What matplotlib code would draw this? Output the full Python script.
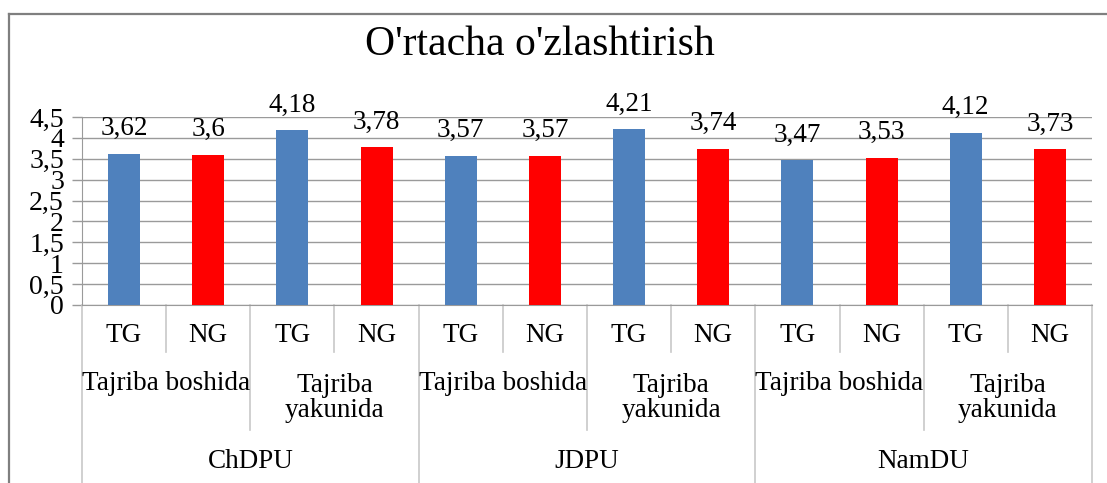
import matplotlib.pyplot as plt
from matplotlib.lines import Line2D

plt.rcParams['font.family'] = ['Liberation Serif', 'DejaVu Serif']

# data
universities = ["ChDPU", "JDPU", "NamDU"]
stages = ["Tajriba boshida", "Tajriba\nyakunida"]
groups = ["TG", "NG"]
values = [3.62, 3.6, 4.18, 3.78,
          3.57, 3.57, 4.21, 3.74,
          3.47, 3.53, 4.12, 3.73]
yticks = [0, 0.5, 1, 1.5, 2, 2.5, 3, 3.5, 4, 4.5]

blue = "#4F81BD"
red = "#FF0000"
grid_col = "#9a9a9a"
sep_col = "#c8c8c8"

W, H = 1107, 483
fig = plt.figure(figsize=(W / 100, H / 100), dpi=100)

# outer chart border (left + top, the rest is cut off)
fig.add_artist(Line2D([9 / W, 9 / W], [0, 1 - 14 / H], color="#7f7f7f", lw=1.6))
fig.add_artist(Line2D([9 / W, 1], [1 - 14 / H, 1 - 14 / H], color="#7f7f7f", lw=1.6))

left, right, top, bottom = 82, 1092, 117, 305
ax = fig.add_axes([left / W, 1 - bottom / H, (right - left) / W, (bottom - top) / H])

n = len(values)
xs = list(range(n))
colors = [blue if i % 2 == 0 else red for i in xs]
ax.bar(xs, values, width=0.38, color=colors, zorder=3)

for x, v in zip(xs, values):
    ax.annotate(str(v).replace(".", ","), (x, v), xytext=(0, 18),
                textcoords="offset points", ha="center", va="center", fontsize=19.5)

ax.set_xlim(-0.5, n - 0.5)
ax.set_ylim(0, 4.5)
ax.set_yticks(yticks)
ax.set_yticklabels([str(t).replace(".0", "").replace(".", ",") for t in yticks], fontsize=20)
ax.tick_params(axis="y", length=7, width=1, color=grid_col, pad=6)
ax.tick_params(axis="x", bottom=False, labelbottom=False)
ax.yaxis.grid(True, color=grid_col, lw=1, zorder=0)
for s in ["top", "right"]:
    ax.spines[s].set_visible(False)
ax.spines["left"].set_color(grid_col)
ax.spines["bottom"].set_color(grid_col)

# multi-level category axis
ph = bottom - top
def frac(py):
    return -(py - bottom) / ph

tr = ax.get_xaxis_transform()
for i in range(n + 1):
    xb = i - 0.5
    if i % 4 == 0:
        yb = frac(500)
    elif i % 2 == 0:
        yb = frac(430)
    else:
        yb = frac(352)
    ax.plot([xb, xb], [0, yb], color=sep_col, lw=1.2, transform=tr, clip_on=False)

for i in xs:
    ax.text(i, frac(336), groups[i % 2], transform=tr, ha="center", va="center", fontsize=19.5)
for k in range(n // 2):
    lab = stages[k % 2]
    ax.text(2 * k + 0.5, frac(384) if "\n" not in lab else frac(398), lab, transform=tr,
            ha="center", va="center", fontsize=19.5, linespacing=1.05)
for u, name in enumerate(universities):
    ax.text(4 * u + 1.5, frac(461), name, transform=tr, ha="center", va="center", fontsize=19.5)

fig.text(540 / W, 1 - 45 / H, "O'rtacha o'zlashtirish", ha="center", va="center", fontsize=30)

fig.savefig("out.png", dpi=100)
